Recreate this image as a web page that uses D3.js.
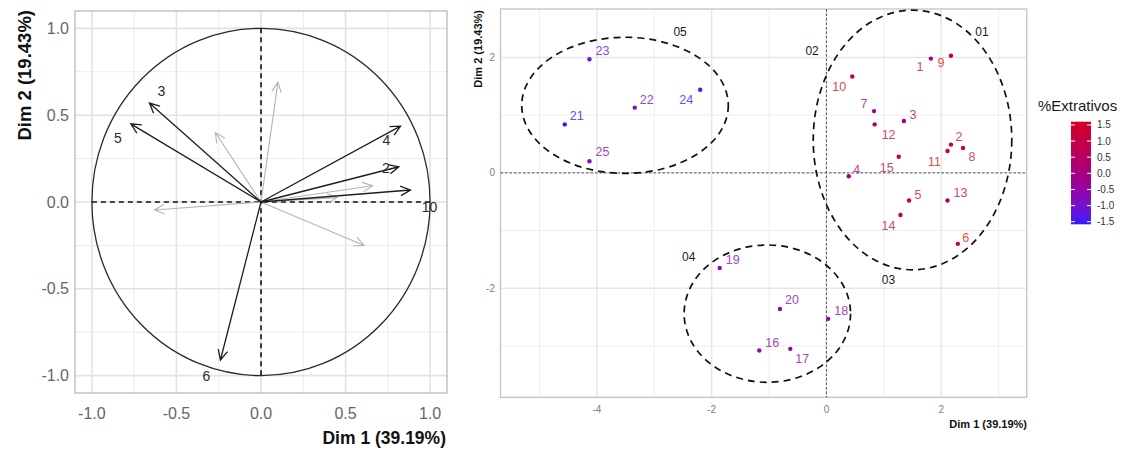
<!DOCTYPE html>
<html>
<head>
<meta charset="utf-8">
<script src="https://cdn.jsdelivr.net/npm/d3@7/dist/d3.min.js"></script>
<style>
body { margin: 0; background: #fff; }
svg { display: block; font-family: "Liberation Sans", Arial, sans-serif; }
</style>
</head>
<body>
<script>
// ---- data: variables (correlation circle) ----
var varNames = ["1", "2", "3", "4", "5", "6", "7", "8", "9", "10", "11", "12"];
var varDim1 = [0.10, 0.815, -0.66, 0.825, -0.77, -0.24, -0.27, -0.63, 0.66, 0.884, 0.45, 0.61];
var varDim2 = [0.69, 0.203, 0.57, 0.437, 0.45, -0.91, 0.40, -0.046, 0.094, 0.069, 0.025, -0.25];
var varShown = ["2", "3", "4", "5", "6", "10"];

// ---- data: individuals ----
var indNames = ["1", "2", "3", "4", "5", "6", "7", "8", "9", "10", "11", "12", "13",
	"14", "15", "16", "17", "18", "19", "20", "21", "22", "23", "24", "25"];
var indDim1 = [1.82, 2.17, 1.35, 0.39, 1.44, 2.29, 0.83, 2.38, 2.17, 0.45, 2.11, 0.84, 2.11,
	1.29, 1.26, -1.17, -0.63, 0.03, -1.86, -0.81, -4.56, -3.34, -4.13, -2.20, -4.13];
var indDim2 = [1.98, 0.49, 0.90, -0.06, -0.48, -1.23, 1.07, 0.43, 2.03, 1.67, 0.38, 0.84, -0.48,
	-0.73, 0.28, -3.08, -3.05, -2.53, -1.65, -2.36, 0.84, 1.13, 1.97, 1.44, 0.20];
var extrativos = [-0.3, 1.3, 0.1, -0.2, 1.2, 1.6, -0.1, 1.2, 1.4, 1.3, 1.5, 0.5, 0.3,
	1.0, 0.6, -0.8, -0.4, -0.4, -0.8, -0.7, -1.58, -0.9, -1.2, -1.45, -0.85];

// ---- data: groups ----
var ellipseCx = [1.50, -3.51, -1.03];
var ellipseCy = [0.57, 1.17, -2.44];
var ellipseRx = [1.73, 1.80, 1.45];
var ellipseRy = [2.25, 1.18, 1.19];
var groupNames = ["01", "02", "03", "04", "05"];
var groupX = [2.71, -0.25, 1.08, -2.40, -2.55];
var groupY = [2.44, 2.11, -1.86, -1.45, 2.44];

// ---- ticks ----
var circTicks = [-1.0, -0.5, 0.0, 0.5, 1.0];
var circMinor = [-0.75, -0.25, 0.25, 0.75];
var indTicksX = [-4, -2, 0, 2];
var indMinorX = [-5, -3, -1, 1, 3];
var indTicksY = [-2, 0, 2];
var indMinorY = [-3, -1, 1];
var legendTicks = [-1.5, -1.0, -0.5, 0.0, 0.5, 1.0, 1.5];

// pixel nudges for the repelled labels
var varNudge = { "2": [-13, 1], "3": [12, -12], "4": [-14, 14], "5": [-13, 14], "6": [-14, 16], "10": [19, 17] };
var indNudge = {
	"1": [-11, 8], "2": [8, -8], "3": [9, -6], "4": [8, -6], "5": [9, -6], "6": [8, -6],
	"7": [-10, -7], "8": [9, 9], "9": [-10, 7], "10": [-13, 10], "11": [-13, 11], "12": [14, 11],
	"13": [13, -8], "14": [-12, 11], "15": [-12, 11], "16": [13, -8], "17": [12, 10], "18": [13, -8],
	"19": [13, -8], "20": [12, -9], "21": [12, -8], "22": [12, -8], "23": [13, -8], "24": [-14, 10], "25": [13, -9]
};

var fmt1 = function (d) { return d.toFixed(1); };

var svg = d3.select('body')
	.append('svg')
	.attr('width', 1126)
	.attr('height', 450);

function arrowPath(x0, y0, x1, y1, len, ang) {
	var t = Math.atan2(y1 - y0, x1 - x0);
	var a1 = t + Math.PI - ang, a2 = t + Math.PI + ang;
	return 'M' + x0 + ',' + y0 + 'L' + x1 + ',' + y1 +
		'M' + (x1 + len * Math.cos(a1)) + ',' + (y1 + len * Math.sin(a1)) +
		'L' + x1 + ',' + y1 +
		'L' + (x1 + len * Math.cos(a2)) + ',' + (y1 + len * Math.sin(a2));
}

// ================= left: correlation circle =================
var cx = d3.scaleLinear().domain([-1.1, 1.1]).range([75, 447]);
var cy = d3.scaleLinear().domain([-1.1, 1.1]).range([393, 11]);
var left = svg.append('g');

left.selectAll('.cminx').data(circMinor).enter().append('line')
	.attr('x1', cx).attr('x2', cx).attr('y1', cy(1.1)).attr('y2', cy(-1.1))
	.attr('stroke', '#ebebeb').attr('stroke-width', 1);
left.selectAll('.cminy').data(circMinor).enter().append('line')
	.attr('y1', cy).attr('y2', cy).attr('x1', cx(-1.1)).attr('x2', cx(1.1))
	.attr('stroke', '#ebebeb').attr('stroke-width', 1);
left.selectAll('.cmajx').data(circTicks).enter().append('line')
	.attr('x1', cx).attr('x2', cx).attr('y1', cy(1.1)).attr('y2', cy(-1.1))
	.attr('stroke', '#e3e3e3').attr('stroke-width', 1.6);
left.selectAll('.cmajy').data(circTicks).enter().append('line')
	.attr('y1', cy).attr('y2', cy).attr('x1', cx(-1.1)).attr('x2', cx(1.1))
	.attr('stroke', '#e3e3e3').attr('stroke-width', 1.6);
left.append('rect')
	.attr('x', cx(-1.1)).attr('y', cy(1.1))
	.attr('width', cx(1.1) - cx(-1.1)).attr('height', cy(-1.1) - cy(1.1))
	.attr('fill', 'none').attr('stroke', '#b8b8b8').attr('stroke-width', 1.3);

// unit circle
left.append('ellipse')
	.attr('cx', cx(0)).attr('cy', cy(0))
	.attr('rx', cx(1) - cx(0)).attr('ry', cy(0) - cy(1))
	.attr('fill', 'none').attr('stroke', '#2a2a2a').attr('stroke-width', 1.3);
left.append('line')
	.attr('x1', cx(-1)).attr('x2', cx(1)).attr('y1', cy(0)).attr('y2', cy(0))
	.attr('stroke', '#111').attr('stroke-width', 1.6).attr('stroke-dasharray', '5,4');
left.append('line')
	.attr('x1', cx(0)).attr('x2', cx(0)).attr('y1', cy(1)).attr('y2', cy(-1))
	.attr('stroke', '#111').attr('stroke-width', 1.6).attr('stroke-dasharray', '5,4');

var vars = varNames.map(function (d, i) {
	return { name: d, x: varDim1[i], y: varDim2[i], shown: varShown.indexOf(d) >= 0 };
});
// grey ones first so black sit on top
vars.sort(function (a, b) { return a.shown - b.shown; });
left.selectAll('.varArrow').data(vars).enter().append('path')
	.attr('class', 'varArrow')
	.attr('d', function (d) { return arrowPath(cx(0), cy(0), cx(d.x), cy(d.y), 11, 0.45); })
	.attr('fill', 'none')
	.attr('stroke', function (d) { return d.shown ? '#1e1e1e' : '#b4b4b4'; })
	.attr('stroke-width', function (d) { return d.shown ? 1.3 : 1.1; });
left.selectAll('.varText').data(vars.filter(function (d) { return d.shown; })).enter().append('text')
	.attr('x', function (d) { return cx(d.x) + varNudge[d.name][0]; })
	.attr('y', function (d) { return cy(d.y) + varNudge[d.name][1]; })
	.attr('text-anchor', 'middle').attr('dominant-baseline', 'central')
	.attr('font-size', 14).attr('fill', '#2b2b2b')
	.text(function (d) { return d.name; });

// axes text
left.selectAll('.cxt').data(circTicks).enter().append('text')
	.attr('x', cx).attr('y', 419)
	.attr('text-anchor', 'middle').attr('font-size', 16).attr('fill', '#666')
	.text(fmt1);
left.selectAll('.cyt').data(circTicks).enter().append('text')
	.attr('x', 69).attr('y', cy).attr('dy', '0.35em')
	.attr('text-anchor', 'end').attr('font-size', 16).attr('fill', '#666')
	.text(fmt1);
left.append('text')
	.attr('x', 446).attr('y', 444).attr('text-anchor', 'end')
	.attr('font-size', 17.5).attr('font-weight', 'bold').attr('fill', '#111')
	.text('Dim 1 (39.19%)');
left.append('text')
	.attr('transform', 'translate(31,10) rotate(-90)').attr('text-anchor', 'end')
	.attr('font-size', 18.5).attr('font-weight', 'bold').attr('fill', '#111')
	.text('Dim 2 (19.43%)');

// ================= right: individuals =================
var ix = d3.scaleLinear().domain([-5.68, 3.49]).range([500.5, 1026.7]);
var iy = d3.scaleLinear().domain([-3.89, 2.84]).range([397.3, 9]);
var lo = d3.min(extrativos), hi = d3.max(extrativos);
var color = d3.scaleLinear()
	.domain([lo, (lo + hi) / 2, hi])
	.range(['#2a1cff', '#a6007f', '#d0001f'])
	.interpolate(d3.interpolateLab);
var right = svg.append('g');

right.selectAll('.iminx').data(indMinorX).enter().append('line')
	.attr('x1', ix).attr('x2', ix).attr('y1', iy.range()[1]).attr('y2', iy.range()[0])
	.attr('stroke', '#ededed').attr('stroke-width', 1);
right.selectAll('.iminy').data(indMinorY).enter().append('line')
	.attr('y1', iy).attr('y2', iy).attr('x1', ix.range()[0]).attr('x2', ix.range()[1])
	.attr('stroke', '#ededed').attr('stroke-width', 1);
right.selectAll('.imajx').data(indTicksX).enter().append('line')
	.attr('x1', ix).attr('x2', ix).attr('y1', iy.range()[1]).attr('y2', iy.range()[0])
	.attr('stroke', '#e6e6e6').attr('stroke-width', 1.4);
right.selectAll('.imajy').data(indTicksY).enter().append('line')
	.attr('y1', iy).attr('y2', iy).attr('x1', ix.range()[0]).attr('x2', ix.range()[1])
	.attr('stroke', '#e6e6e6').attr('stroke-width', 1.4);
right.append('rect')
	.attr('x', ix.range()[0]).attr('y', iy.range()[1])
	.attr('width', ix.range()[1] - ix.range()[0]).attr('height', iy.range()[0] - iy.range()[1])
	.attr('fill', 'none').attr('stroke', '#c4c4c4').attr('stroke-width', 1.3);

right.append('line')
	.attr('x1', ix(0)).attr('x2', ix(0)).attr('y1', iy.range()[1]).attr('y2', iy.range()[0])
	.attr('stroke', '#555').attr('stroke-width', 1).attr('stroke-dasharray', '2.5,2');
right.append('line')
	.attr('y1', iy(0)).attr('y2', iy(0)).attr('x1', ix.range()[0]).attr('x2', ix.range()[1])
	.attr('stroke', '#555').attr('stroke-width', 1).attr('stroke-dasharray', '2.5,2');

// group ellipses
right.selectAll('.grp').data(ellipseCx).enter().append('ellipse')
	.attr('cx', function (d) { return ix(d); })
	.attr('cy', function (d, i) { return iy(ellipseCy[i]); })
	.attr('rx', function (d, i) { return ix(ellipseRx[i]) - ix(0); })
	.attr('ry', function (d, i) { return iy(0) - iy(ellipseRy[i]); })
	.attr('fill', 'none').attr('stroke', '#111').attr('stroke-width', 1.7)
	.attr('stroke-dasharray', '7,5');
right.selectAll('.grpText').data(groupNames).enter().append('text')
	.attr('x', function (d, i) { return ix(groupX[i]); })
	.attr('y', function (d, i) { return iy(groupY[i]); })
	.attr('text-anchor', 'middle').attr('dominant-baseline', 'central')
	.attr('font-size', 12).attr('fill', '#1a1a1a')
	.text(function (d) { return d; });

var inds = indNames.map(function (d, i) {
	return { name: d, x: indDim1[i], y: indDim2[i], v: extrativos[i] };
});
right.selectAll('.pt').data(inds).enter().append('circle')
	.attr('cx', function (d) { return ix(d.x); })
	.attr('cy', function (d) { return iy(d.y); })
	.attr('r', 2.2)
	.attr('fill', function (d) { return color(d.v); });
right.selectAll('.ptText').data(inds).enter().append('text')
	.attr('x', function (d) { return ix(d.x) + indNudge[d.name][0]; })
	.attr('y', function (d) { return iy(d.y) + indNudge[d.name][1]; })
	.attr('text-anchor', 'middle').attr('dominant-baseline', 'central')
	.attr('font-size', 12.5)
	.attr('fill', function (d) { return d3.interpolateLab(color(d.v), '#fff')(0.18); })
	.text(function (d) { return d.name; });

right.selectAll('.ixt').data(indTicksX).enter().append('text')
	.attr('x', ix).attr('y', 413)
	.attr('text-anchor', 'middle').attr('font-size', 10).attr('fill', '#808080')
	.text(function (d) { return String(d); });
right.selectAll('.iyt').data(indTicksY).enter().append('text')
	.attr('x', 495).attr('y', iy).attr('dy', '0.35em')
	.attr('text-anchor', 'end').attr('font-size', 10).attr('fill', '#808080')
	.text(function (d) { return String(d); });
right.append('text')
	.attr('x', 1027).attr('y', 428).attr('text-anchor', 'end')
	.attr('font-size', 11).attr('font-weight', 'bold').attr('fill', '#111')
	.text('Dim 1 (39.19%)');
right.append('text')
	.attr('transform', 'translate(482,10) rotate(-90)').attr('text-anchor', 'end')
	.attr('font-size', 11).attr('font-weight', 'bold').attr('fill', '#111')
	.text('Dim 2 (19.43%)');

// ================= legend =================
var ly = d3.scaleLinear().domain([lo, hi]).range([224.3, 121.7]);
var grad = svg.append('defs').append('linearGradient')
	.attr('id', 'legGrad').attr('x1', 0).attr('x2', 0).attr('y1', 1).attr('y2', 0);
grad.selectAll('stop').data(d3.range(0, 1.0001, 0.05)).enter().append('stop')
	.attr('offset', function (d) { return d; })
	.attr('stop-color', function (d) { return color(lo + d * (hi - lo)); });
svg.append('text')
	.attr('x', 1038).attr('y', 111)
	.attr('font-size', 15).attr('fill', '#1a1a1a')
	.text('%Extrativos');
svg.append('rect')
	.attr('x', 1071).attr('y', ly(hi))
	.attr('width', 20).attr('height', ly(lo) - ly(hi))
	.attr('fill', 'url(#legGrad)');
svg.selectAll('.legTick').data(legendTicks).enter().append('path')
	.attr('d', function (d) {
		return 'M1071,' + ly(d) + 'h4M1091,' + ly(d) + 'h-4';
	})
	.attr('stroke', '#fff').attr('stroke-width', 1);
svg.selectAll('.legText').data(legendTicks).enter().append('text')
	.attr('x', 1097).attr('y', ly).attr('dy', '0.35em')
	.attr('font-size', 10).attr('fill', '#333')
	.text(fmt1);
</script>
</body>
</html>
